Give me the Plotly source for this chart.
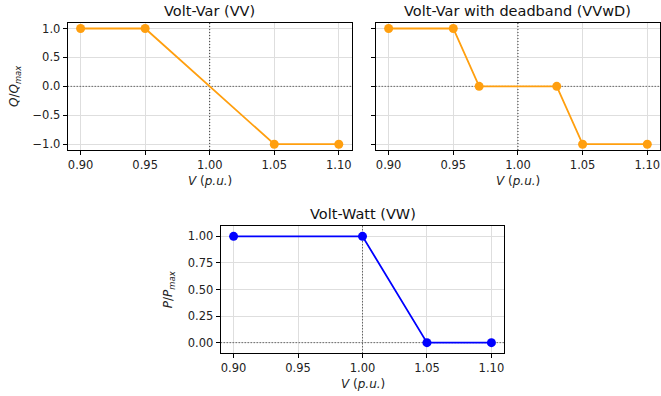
import plotly.graph_objects as go

# Inverter control curves
vv_v = [0.90, 0.95, 1.05, 1.10]
vv_q = [1.0, 1.0, -1.0, -1.0]

vvwd_v = [0.90, 0.95, 0.97, 1.03, 1.05, 1.10]
vvwd_q = [1.0, 1.0, 0.0, 0.0, -1.0, -1.0]

vw_v = [0.90, 1.00, 1.05, 1.10]
vw_p = [1.0, 1.0, 0.0, 0.0]

x_ticks = [0.90, 0.95, 1.00, 1.05, 1.10]
q_ticks = [1.0, 0.5, 0.0, -0.5, -1.0]
p_ticks = [1.00, 0.75, 0.50, 0.25, 0.00]

# nominal voltage and zero-output reference levels
V_NOM = 1.0
ZERO = 0.0
X_RANGE = [0.89, 1.11]

W, H = 661, 396
FONT = "DejaVu Sans"
ORANGE = "#ff9f0f"
BLUE = "#0000ff"

fig = go.Figure()

def px_x(p):
    return p / W

def px_y(p):
    return 1 - p / H

panels = [
    # (xaxis, yaxis, x-domain px, y-domain px, x, y, color, title, ylabel, yrange, yticks, showlabels, fmt)
    ("x", "y", (67.7, 351.7), (22.7, 150.0), vv_v, vv_q, ORANGE,
     "Volt-Var (VV)", "<i>Q</i>/<i>Q</i><sub><i>max</i></sub>",
     [-1.1, 1.1], q_ticks, True, "{:.1f}"),
    ("x2", "y2", (375.7, 660.2), (22.7, 150.0), vvwd_v, vvwd_q, ORANGE,
     "Volt-Var with deadband (VVwD)", None,
     [-1.1, 1.1], q_ticks, False, "{:.1f}"),
    ("x3", "y3", (220.7, 504.3), (225.7, 353.3), vw_v, vw_p, BLUE,
     "Volt-Watt (VW)", "<i>P</i>/<i>P</i><sub><i>max</i></sub>",
     [-0.1, 1.1], p_ticks, True, "{:.2f}"),
]

layout_axes = {}
annotations = []
ref_line = dict(color="#333", width=1, dash="1px,2px")
for i, (xa, ya, xd, yd, xs, ys, col, title, ylab, yr, yt, showlab, fmt) in enumerate(panels):
    # dotted reference lines, drawn first so the curve sits on top
    fig.add_trace(go.Scatter(x=[V_NOM, V_NOM], y=yr, mode="lines", xaxis=xa, yaxis=ya,
                             line=ref_line, showlegend=False, hoverinfo="skip"))
    fig.add_trace(go.Scatter(x=X_RANGE, y=[ZERO, ZERO], mode="lines", xaxis=xa, yaxis=ya,
                             line=ref_line, showlegend=False, hoverinfo="skip"))
    fig.add_trace(go.Scatter(
        x=xs, y=ys, mode="lines+markers", xaxis=xa, yaxis=ya,
        line=dict(color=col, width=1.8),
        marker=dict(color=col, size=9),
        showlegend=False, cliponaxis=False,
    ))
    xkey = "xaxis" if xa == "x" else "xaxis" + xa[1:]
    ykey = "yaxis" if ya == "y" else "yaxis" + ya[1:]
    common = dict(
        showline=True, linecolor="black", linewidth=1, mirror=True,
        ticks="outside", ticklen=4, tickcolor="black", tickwidth=1,
        showgrid=True, gridcolor="#dedede", gridwidth=0.8,
        zeroline=False, automargin=False,
        tickfont=dict(family=FONT, size=11.5, color="#222"),
    )
    layout_axes[xkey] = dict(
        common, domain=[px_x(xd[0]), px_x(xd[1])], range=X_RANGE,
        anchor=ya, tickvals=x_ticks, ticktext=["{:.2f}".format(v) for v in x_ticks],
    )
    layout_axes[ykey] = dict(
        common, domain=[px_y(yd[1]), px_y(yd[0])], range=yr, anchor=xa,
        tickvals=yt, showticklabels=showlab,
        ticktext=[fmt.format(v).replace("-", "\u2212") for v in yt],
    )
    cx = (xd[0] + xd[1]) / 2
    annotations.append(dict(text=title, x=px_x(cx), y=px_y(yd[0] - 11.5), xref="paper", yref="paper",
                            showarrow=False, font=dict(family=FONT, size=14.5, color="#111"),
                            xanchor="center", yanchor="middle"))
    annotations.append(dict(text="<i>V</i> (<i>p.u.</i>)", x=px_x(cx), y=px_y(yd[1] + 31),
                            xref="paper", yref="paper", showarrow=False,
                            font=dict(family=FONT, size=12, color="#222"),
                            xanchor="center", yanchor="middle"))
    if ylab:
        cy = (yd[0] + yd[1]) / 2
        annotations.append(dict(text=ylab, x=px_x(xd[0] - 52), y=px_y(cy), xref="paper", yref="paper",
                                showarrow=False, textangle=-90,
                                font=dict(family=FONT, size=12, color="#222"),
                                xanchor="center", yanchor="middle"))

fig.update_layout(
    width=W, height=H, margin=dict(l=0, r=0, t=0, b=0),
    paper_bgcolor="white", plot_bgcolor="white",
    annotations=annotations, **layout_axes,
)

fig.write_html("out.html")
